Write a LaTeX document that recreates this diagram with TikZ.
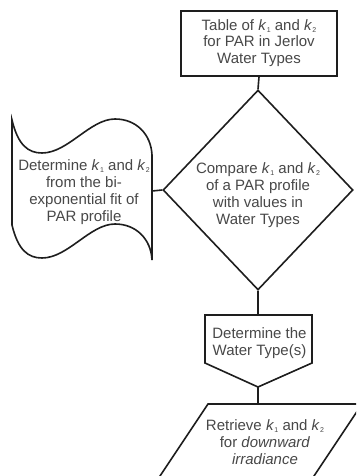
\documentclass[tikz,border=0pt]{standalone}
\usepackage{fontspec}
\setmainfont{Liberation Sans}
\usetikzlibrary{shapes.geometric}
\definecolor{txtgray}{HTML}{484848}
\definecolor{linegray}{HTML}{1e1e1e}
\newcommand{\kv}[1]{\textit{k}\kern0.3pt\raisebox{-2.2pt}{\fontsize{7}{7}\selectfont #1}}
\begin{document}
\begin{tikzpicture}[x=1pt,y=-1pt,
  outline/.style={draw=linegray,line width=1.6pt,line join=miter},
  conn/.style={draw=linegray,line width=1.6pt},
  label/.style={text=txtgray,align=center,font=\fontsize{15}{16.8}\selectfont,inner sep=0pt}]
\useasboundingbox (0,0) rectangle (356,476);
\clip (0,0) rectangle (356,476);
\fill[white] (0,0) rectangle (356,476);

% top box
\node[outline,minimum width=156pt,minimum height=65pt,inner sep=0pt] (table) at (259,43.5) {};
\node[label] (tabletxt) at (259,43) {Table of \kv{1} and \kv{2}\\for PAR in Jerlov\\Water Types};

% diamond
\node[outline,diamond,minimum width=190pt,minimum height=200pt,inner sep=0pt] (cmp) at (258,190) {};
\node[label] (cmptxt) at (258,195) {Compare \kv{1} and \kv{2}\\of a PAR profile\\with values in\\Water Types};

% tape (wavy) shape
\draw[outline] (12,120) .. controls (18,145) and (28,153) .. (42,153)
  .. controls (68,153) and (90,119) .. (115,119)
  .. controls (136,119) and (151,134) .. (152,155)
  coordinate (taperight) -- (152,260)
  .. controls (151,239) and (136,224) .. (115,224)
  .. controls (90,224) and (68,258) .. (42,258)
  .. controls (28,258) and (18,250) .. (12,225) -- cycle;
\coordinate (tapeE) at (152,191);
\node[label] (fittxt) at (84,192) {Determine \kv{1} and \kv{2}\\from the bi-\\exponential fit of\\PAR profile};

% pentagon
\draw[outline] (205,315) -- (312,315) -- (312,363) -- (258,387) -- (205,363) -- cycle;
\coordinate (pentN) at (258,315);
\coordinate (pentS) at (258,387);
\node[label] (wtxt) at (259.5,343) {Determine the\\Water Type(s)};

% parallelogram
\draw[outline] (208,404) -- (362,404) -- (296,503) -- (142,503) -- cycle;
\coordinate (paraN) at (258,404);
\node[label] (rettxt) at (265,442) {Retrieve \kv{1} and \kv{2}\\for \textit{downward}\\\textit{irradiance}};

% connectors
\draw[conn] (table.south) -- (cmp.north);
\draw[conn] (tapeE) -- (cmp.west);
\draw[conn] (cmp.south) -- (pentN);
\draw[conn] (pentS) -- (paraN);
\end{tikzpicture}
\end{document}
